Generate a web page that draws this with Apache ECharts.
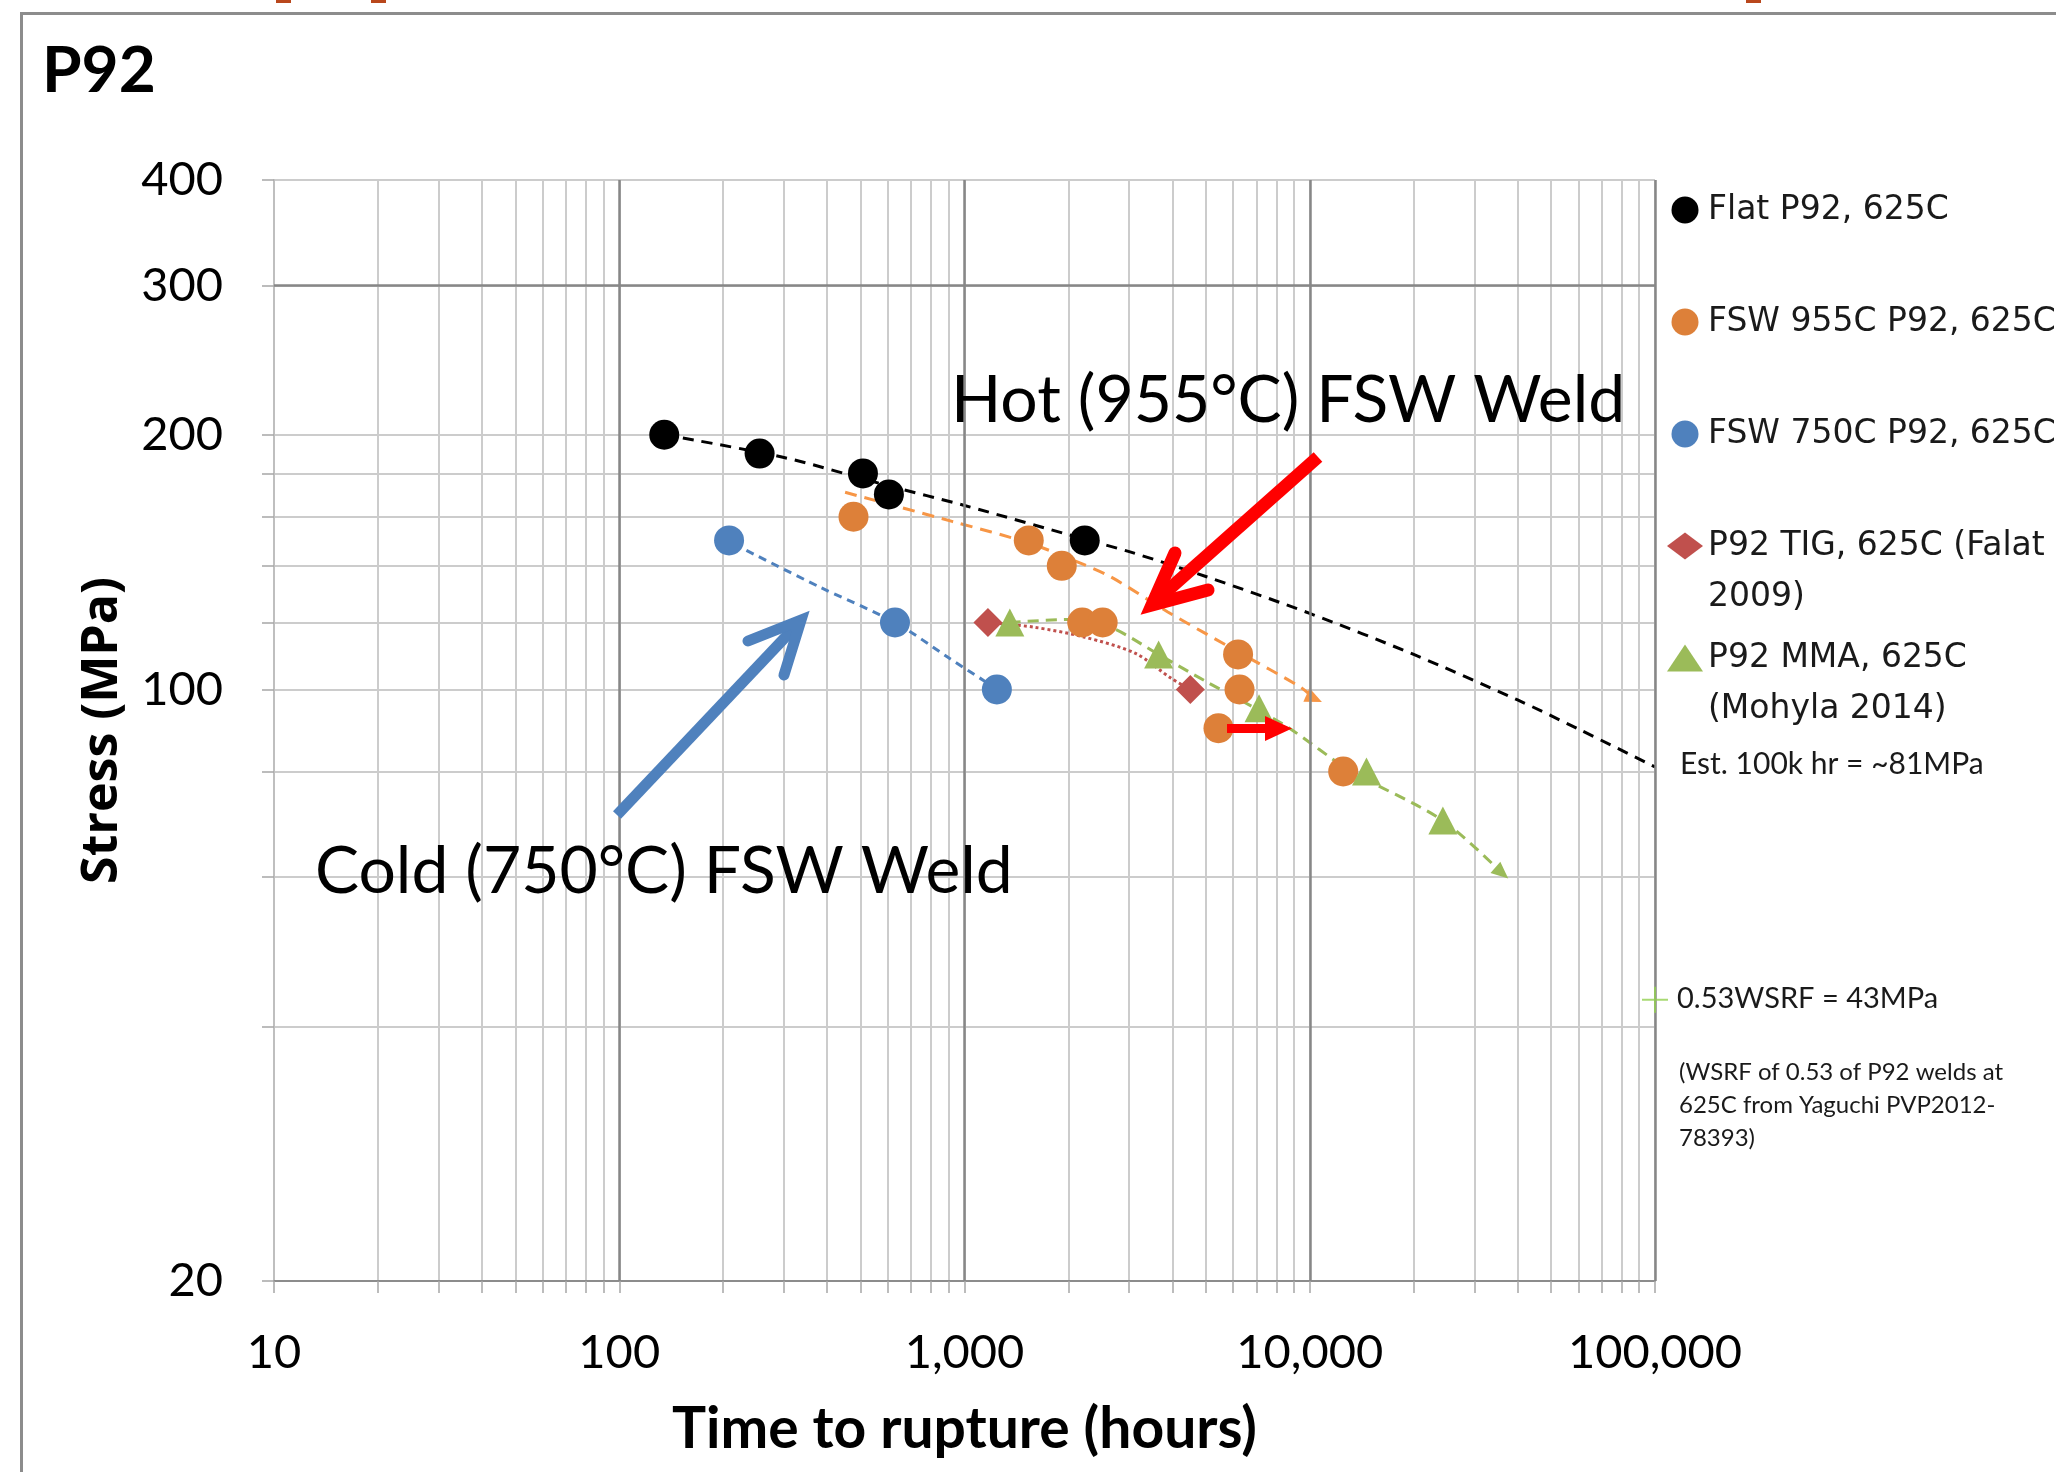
<!DOCTYPE html>
<html><head><meta charset="utf-8">
<script src="https://cdn.jsdelivr.net/npm/echarts@6/dist/echarts.min.js"></script>
<style>html,body{margin:0;padding:0;background:#fff}#c{width:2056px;height:1472px}</style>
</head><body><div id="c"></div>
<script>
// ---- data (time to rupture in hours, stress in MPa) ----
const flatP92 = [[135,200],[255,190],[508,180],[604,170],[2230,150]];
const fsw955 = [[477,160],[1535,150],[1913,140],[2193,120],[2513,120],[6200,110],[6260,100],[5440,90],[12500,80]];
const fsw750 = [[208,150],[629,120],[1241,100]];
const tigFalat = [[1169,120],[4508,100]];
const mmaMohyla = [[1353,120],[3650,110],[7130,95],[14600,80],[24300,70]];
const wsrfPoint = [[100000,43]];

const flatTrend = [[135,200],[300,188],[604,174],[1000,165],[2230,150.5],[3000,145.5],[5000,136],[10000,123],[20000,110],[40000,97.2],[60000,89.8],[100000,81]];
const fsw955Trend = [[451,171],[920,158],[1535,149],[2080,142],[2640,136],[3880,123.5],[6220,110.7],[9380,100.7],[10300,97.6]];
const fsw750Trend = [[215,148.5],[380,132.2],[629,120],[900,109],[1200,101]];
const tigTrend = [[1169,120],[1585,118.5],[2230,115.3],[3130,110.3],[3980,103],[4450,100.3]];
const mmaTrend = [[1353,120],[2014,121],[2643,118.5],[3650,110],[5050,102],[7130,94.5],[8730,90],[13090,80.2],[24300,70],[36000,60.7]];

const xTickValues = [10,20,30,40,50,60,70,80,90,100,200,300,400,500,600,700,800,900,1000,2000,3000,4000,5000,6000,7000,8000,9000,10000,20000,30000,40000,50000,60000,70000,80000,90000,100000];
const xLabelValues = [10,100,1000,10000,100000];
const yTickValues = [20,40,60,80,100,120,140,160,180,200,300,400];
const yLabelValues = [20,100,200,300,400];
const darkXLines = [100,1000,10000,100000];
const darkYLines = [300];

const seriesNames = ['Flat P92, 625C','FSW 955C P92, 625C','FSW 750C P92, 625C','P92 TIG, 625C (Falat 2009)','P92 MMA, 625C (Mohyla 2014)'];
const legendFirstLines = {'P92 TIG, 625C (Falat 2009)':'P92 TIG, 625C (Falat','P92 MMA, 625C (Mohyla 2014)':'P92 MMA, 625C'};

const C = {black:'#000000', orange:'#DD8039', orangeLine:'#F79646', blue:'#4F81BD', red:'#C0504D', green:'#9BBB59', plus:'#92D050'};

function withEndArrow(arr, rot, size){
  return arr.map((p,i)=> i===arr.length-1 ? {value:p, symbol:'triangle', symbolSize:size, symbolRotate:rot} : {value:p});
}

const chart = echarts.init(document.getElementById('c'), null, {renderer:'canvas', width:2056, height:1472});

const option = {
  animation:false,
  backgroundColor:'#ffffff',
  grid:{left:274, right:401, top:180, bottom:191, containLabel:false, outerBoundsMode:'none'},
  xAxis:{
    type:'log', logBase:10, min:10, max:100000,
    name:'Time to rupture (hours)', nameLocation:'middle', nameGap:120,
    nameTextStyle:{fontFamily:'Lato', fontWeight:'bold', fontSize:57, color:'#000'},
    axisLine:{show:true, lineStyle:{color:'#8C8C8C', width:2}},
    axisTick:{show:true, inside:false, length:12, customValues:xTickValues, lineStyle:{color:'#A6A6A6', width:1.5}},
    axisLabel:{customValues:xLabelValues, margin:48, fontFamily:'Lato', fontSize:47, color:'#000',
      formatter:v=>Number(v).toLocaleString('en-US')},
    splitLine:{show:true, lineStyle:{color:'#CCCCCC', width:2}},
    minorTick:{show:false}, minorSplitLine:{show:false}
  },
  yAxis:{
    type:'log', logBase:10, min:20, max:400,
    name:'Stress (MPa)', nameLocation:'middle', nameGap:146, nameRotate:90,
    nameTextStyle:{fontFamily:'Open Sans', fontWeight:'bold', fontSize:50, color:'#000'},
    axisLine:{show:true, lineStyle:{color:'#BFBFBF', width:2}},
    axisTick:{show:true, inside:false, length:12, customValues:yTickValues, lineStyle:{color:'#A6A6A6', width:1.5}},
    axisLabel:{customValues:yLabelValues, margin:51, fontFamily:'Lato', fontSize:47, color:'#000',
      formatter:v=>String(Math.round(v))},
    splitLine:{show:true, lineStyle:{color:'#CCCCCC', width:2}},
    minorTick:{show:false}, minorSplitLine:{show:false}
  },
  legend:{
    orient:'vertical', left:1667, top:190, padding:0, itemWidth:36, itemHeight:27, itemGap:72,
    selectedMode:false, symbolKeepAspect:true,
    textStyle:{fontFamily:'DejaVu Sans', fontSize:33, color:'#1a1a1a', lineHeight:40},
    formatter:n=>legendFirstLines[n]||n,
    data:[
      {name:seriesNames[0], icon:'circle'},
      {name:seriesNames[1], icon:'circle'},
      {name:seriesNames[2], icon:'circle'},
      {name:seriesNames[3], icon:'diamond'},
      {name:seriesNames[4], icon:'triangle'}
    ]
  },
  series:[
    // heavier grid lines
    {type:'line', name:'grid-major', data:[[10,20]], symbol:'none', silent:true, z:1,
      lineStyle:{width:0},
      markLine:{silent:true, symbol:'none', label:{show:false}, animation:false,
        lineStyle:{color:'#878787', width:2.5, type:'solid'},
        data: darkXLines.map(v=>({xAxis:v})).concat(darkYLines.map(v=>({yAxis:v})))}},
    // trend lines
    {type:'line', name:'flatTrend', data:flatTrend, smooth:0.3, symbol:'none', z:3, silent:true,
      lineStyle:{color:C.black, width:3, type:[11,8]}},
    {type:'line', name:'fsw955Trend', data:withEndArrow(fsw955Trend,-114,[15,17]), smooth:0.3, symbol:'none', showSymbol:true, z:3, silent:true,
      itemStyle:{color:C.orangeLine}, lineStyle:{color:C.orangeLine, width:3, type:[12,8]}},
    {type:'line', name:'fsw750Trend', data:fsw750Trend, smooth:0.3, symbol:'none', z:3, silent:true,
      lineStyle:{color:C.blue, width:3, type:[8,6]}},
    {type:'line', name:'tigTrend', data:tigTrend, smooth:0.3, symbol:'none', z:3, silent:true,
      lineStyle:{color:C.red, width:3, type:[3,3]}},
    {type:'line', name:'mmaTrend', data:withEndArrow(mmaTrend,-131,[15,17]), smooth:0.3, symbol:'none', showSymbol:true, z:3, silent:true,
      itemStyle:{color:C.green}, lineStyle:{color:C.green, width:3, type:[11,7]}},
    // data points
    {type:'scatter', name:seriesNames[0], data:flatP92, symbol:'circle', symbolSize:30, z:5, itemStyle:{color:C.black, opacity:1}},
    {type:'scatter', name:seriesNames[1], data:fsw955, symbol:'circle', symbolSize:30, z:5, itemStyle:{color:C.orange, opacity:1}},
    {type:'scatter', name:seriesNames[2], data:fsw750, symbol:'circle', symbolSize:30, z:5, itemStyle:{color:C.blue, opacity:1}},
    {type:'scatter', name:seriesNames[3], data:tigFalat, symbol:'diamond', symbolSize:29, z:5, itemStyle:{color:C.red, opacity:1}},
    {type:'scatter', name:seriesNames[4], data:mmaMohyla, symbol:'triangle', symbolSize:[29,28], z:5, itemStyle:{color:C.green, opacity:1}},
    {type:'scatter', name:'0.53WSRF', data:wsrfPoint, symbol:'path://M0,12 L26,12 L26,14 L0,14 Z M12,0 L14,0 L14,26 L12,26 Z', symbolSize:26, z:5, itemStyle:{color:C.plus}}
  ],
  graphic:[
    // frame lines of the slide
    {type:'rect', z:100, shape:{x:20, y:12, width:2036, height:3}, style:{fill:'#8C8C8C'}, silent:true},
    {type:'rect', z:100, shape:{x:20, y:12, width:3, height:1460}, style:{fill:'#8C8C8C'}, silent:true},
    {type:'rect', z:100, shape:{x:276, y:0, width:15, height:3}, style:{fill:'#B9471C'}, silent:true},
    {type:'rect', z:100, shape:{x:371, y:0, width:15, height:3}, style:{fill:'#B9471C'}, silent:true},
    {type:'rect', z:100, shape:{x:1746, y:0, width:15, height:3}, style:{fill:'#B9471C'}, silent:true},
    // title
    {type:'text', z:100, x:42, y:71, style:{text:'P92', font:'bold 64px Lato', fill:'#000', verticalAlign:'middle'}, silent:true},
    // legend continuation lines
    {type:'text', z:100, x:1708, y:597, style:{text:'2009)', font:'33px "DejaVu Sans"', fill:'#1a1a1a', verticalAlign:'middle'}, silent:true},
    {type:'text', z:100, x:1708, y:709, style:{text:'(Mohyla 2014)', font:'33px "DejaVu Sans"', fill:'#1a1a1a', verticalAlign:'middle'}, silent:true},
    // side notes
    {type:'text', z:100, x:1680, y:764, style:{text:'Est. 100k hr = ~81MPa', font:'30px Lato', fill:'#1a1a1a', verticalAlign:'middle'}, silent:true},
    {type:'text', z:100, x:1677, y:999, style:{text:'0.53WSRF = 43MPa', font:'29px Lato', fill:'#1a1a1a', verticalAlign:'middle'}, silent:true},
    {type:'text', z:100, x:1679, y:1056, style:{text:'(WSRF of 0.53 of P92 welds at\n625C from Yaguchi PVP2012-\n78393)', font:'24px Lato', lineHeight:33, fill:'#1a1a1a', verticalAlign:'top'}, silent:true},
    // big annotations
    {type:'text', z:100, x:951, y:401, style:{text:'Hot (955°C) FSW Weld', font:'66px Lato', fill:'#000', verticalAlign:'middle'}, silent:true},
    {type:'text', z:100, x:315, y:872, style:{text:'Cold (750°C) FSW Weld', font:'66px Lato', fill:'#000', verticalAlign:'middle'}, silent:true},
    // red arrow to hot weld
    {type:'polyline', z:100, shape:{points:[[1318,457],[1158,599]]}, style:{stroke:'#FF0000', lineWidth:13, lineCap:'butt', fill:null}, silent:true},
    {type:'polyline', z:100, shape:{points:[[1175,553],[1152,605],[1208,590]]}, style:{stroke:'#FF0000', lineWidth:13, lineCap:'round', lineJoin:'miter', fill:null}, silent:true},
    // blue arrow to cold weld
    {type:'polyline', z:100, shape:{points:[[617,815],[795,627]]}, style:{stroke:'#4F81BD', lineWidth:11, lineCap:'butt', fill:null}, silent:true},
    {type:'polyline', z:100, shape:{points:[[748,641],[801,620],[784,675]]}, style:{stroke:'#4F81BD', lineWidth:11, lineCap:'round', lineJoin:'miter', fill:null}, silent:true},
    // small red arrow
    {type:'rect', z:100, shape:{x:1227, y:724, width:40, height:9}, style:{fill:'#FF0000'}, silent:true},
    {type:'polygon', z:100, shape:{points:[[1265,716],[1292,728.5],[1265,741]]}, style:{fill:'#FF0000'}, silent:true}
  ]
};
chart.setOption(option);
</script></body></html>
